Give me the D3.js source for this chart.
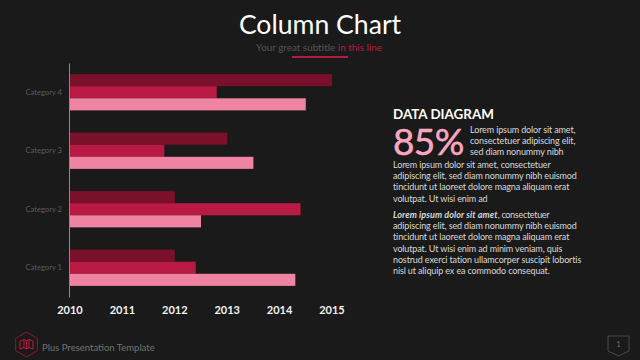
<!DOCTYPE html>
<html>
<head>
<meta charset="utf-8">
<script src="https://cdn.jsdelivr.net/npm/d3@7"></script>
<style>
    html, body { margin: 0; padding: 0; background: #1a1a1a; overflow: hidden; }
    svg { display: block; font-family: Lato, sans-serif; }
    .x.axis text { font-family: Lato, sans-serif; font-size: 11px; font-weight: 700; fill: #f2f2f2; }
    .y.axis text { font-family: Lato, sans-serif; font-size: 7.6px; fill: #5a5a5a; }
</style>
</head>
<body>
<div id="chart"></div>
<script>
const categories = ['Category 1', 'Category 2', 'Category 3', 'Category 4'];
const seriesNames = ['Series 1', 'Series 2', 'Series 3'];
const series1 = [2012.0, 2012.0, 2013.0, 2015.0];
const series2 = [2012.4, 2014.4, 2011.8, 2012.8];
const series3 = [2014.3, 2012.5, 2013.5, 2014.5];
const yearTicks = [2010, 2011, 2012, 2013, 2014, 2015];
const colors = ['#7a1029', '#b91a43', '#ee84a2'];

const paragraphOne = [
    'Lorem ipsum dolor sit amet, consectetuer',
    'adipiscing elit, sed diam nonummy nibh euismod',
    'tincidunt ut laoreet dolore magna aliquam erat',
    'volutpat. Ut wisi enim ad'
];
const introLines = ['Lorem ipsum dolor sit amet,', 'consectetuer adipiscing elit,', 'sed diam nonummy nibh'];
const paragraphTwo = [
    'adipiscing elit, sed diam nonummy nibh euismod',
    'tincidunt ut laoreet dolore magna aliquam erat',
    'volutpat. Ut wisi enim ad minim veniam, quis',
    'nostrud exerci tation ullamcorper suscipit lobortis',
    'nisl ut aliquip ex ea commodo consequat.'
];

const width = 640, height = 360;
const svg = d3.select('#chart').append('svg')
    .attr('width', width)
    .attr('height', height);

svg.append('rect').attr('width', width).attr('height', height).attr('fill', '#1a1a1a');

// heading
svg.append('text').attr('x', 320).attr('y', 34)
    .attr('text-anchor', 'middle')
    .attr('font-size', 26.6).attr('fill', '#ffffff')
    .text('Column Chart');

const subtitle = svg.append('text').attr('x', 319).attr('y', 50.5)
    .attr('text-anchor', 'middle')
    .attr('font-size', 9.9).attr('fill', '#555555');
subtitle.append('tspan').text('Your great subtitle ');
subtitle.append('tspan').attr('fill', '#b91a43').text('in this line');

svg.append('rect').attr('x', 292).attr('y', 56).attr('width', 56).attr('height', 2).attr('fill', '#b91a43');

// chart
const xScale = d3.scaleLinear().domain([2010, 2015]).range([70, 332]);
const yScale = d3.scaleBand()
    .domain(categories)
    .range([297, 63])
    .paddingInner(0.38)
    .paddingOuter(0.19);
const innerScale = d3.scaleBand()
    .domain(seriesNames)
    .range([0, yScale.bandwidth()]);

const allSeries = [series1, series2, series3];
const bars = svg.append('g');
seriesNames.forEach((name, s) => {
    bars.selectAll(`rect.s${s}`)
        .data(categories)
        .enter().append('rect')
        .attr('class', `s${s}`)
        .attr('x', xScale(2010))
        .attr('y', d => yScale(d) + innerScale(name))
        .attr('width', (d, i) => xScale(allSeries[s][i]) - xScale(2010))
        .attr('height', innerScale.bandwidth())
        .attr('fill', colors[s]);
});

const xAxis = d3.axisBottom(xScale)
    .tickValues(yearTicks)
    .tickFormat(d3.format('d'))
    .tickSize(0)
    .tickPadding(9.5);
const gXAxis = svg.append('g')
    .attr('class', 'x axis')
    .attr('transform', 'translate(-0.5,297)')
    .call(xAxis);
gXAxis.select('.domain').remove();

const yAxis = d3.axisLeft(yScale).tickSize(0).tickPadding(7);
const gYAxis = svg.append('g')
    .attr('class', 'y axis')
    .attr('transform', 'translate(69,0)')
    .call(yAxis);
gYAxis.select('.domain').attr('stroke', '#8a8a8a').attr('stroke-width', 1);

// right hand text block
const bodyColor = '#d9d9d9';
function textLines(lines, x, y0, step) {
    svg.append('g').selectAll('text')
        .data(lines)
        .enter().append('text')
        .attr('x', x)
        .attr('y', (d, i) => y0 + i * step)
        .attr('font-size', 9)
        .attr('letter-spacing', -0.13)
        .attr('fill', bodyColor)
        .text(d => d);
}

svg.append('text').attr('x', 393).attr('y', 119)
    .attr('font-size', 13.4).attr('font-weight', 700).attr('fill', '#ffffff')
    .text('DATA DIAGRAM');
svg.append('text').attr('x', 393).attr('y', 155)
    .attr('font-size', 37).attr('letter-spacing', -0.6)
    .attr('fill', '#f7a8c0').attr('stroke', '#f7a8c0').attr('stroke-width', 0.5)
    .text('85%');

textLines(introLines, 470, 133, 11.2);
textLines(paragraphOne, 393, 168, 11.2);

const boldLine = svg.append('text').attr('x', 393).attr('y', 218)
    .attr('font-size', 9).attr('letter-spacing', -0.13).attr('fill', bodyColor);
boldLine.append('tspan').attr('font-weight', 700).attr('font-style', 'italic').attr('letter-spacing', 0.1).text('Lorem ipsum dolor sit amet');
boldLine.append('tspan').attr('letter-spacing', -0.3).text(', consectetuer');
textLines(paragraphTwo, 393, 229.2, 11.2);

// footer logo
const hexagon = d3.range(6).map(i => {
    const a = Math.PI / 3 * i - Math.PI / 2;
    return [26.5 + 12.5 * Math.cos(a), 344.5 + 12.5 * Math.sin(a)];
});
svg.append('path')
    .attr('d', d3.line()(hexagon) + 'Z')
    .attr('fill', 'none').attr('stroke', '#8f1534').attr('stroke-width', 1);
svg.append('path')
    .attr('d', 'M20 341 L24 339.5 L26.5 341 L29 339.5 L33 341 L33 349 L29 347.5 L26.5 349 L24 347.5 L20 349 Z M24 339.5 V347.5 M26.5 341 V349 M29 339.5 V347.5')
    .attr('fill', 'none').attr('stroke', '#b91a43').attr('stroke-width', 1);
svg.append('text').attr('x', 42).attr('y', 351)
    .attr('font-size', 9.5).attr('fill', '#727272')
    .text('Plus Presentation Template');

// page number badge
svg.append('path')
    .attr('d', 'M608 336 H629 V351 L618.5 356 L608 351 Z')
    .attr('fill', 'none').attr('stroke', '#4a4a4a').attr('stroke-width', 1);
svg.append('text').attr('x', 618.5).attr('y', 347)
    .attr('text-anchor', 'middle')
    .attr('font-size', 7).attr('fill', '#777')
    .text('1');
</script>
</body>
</html>
